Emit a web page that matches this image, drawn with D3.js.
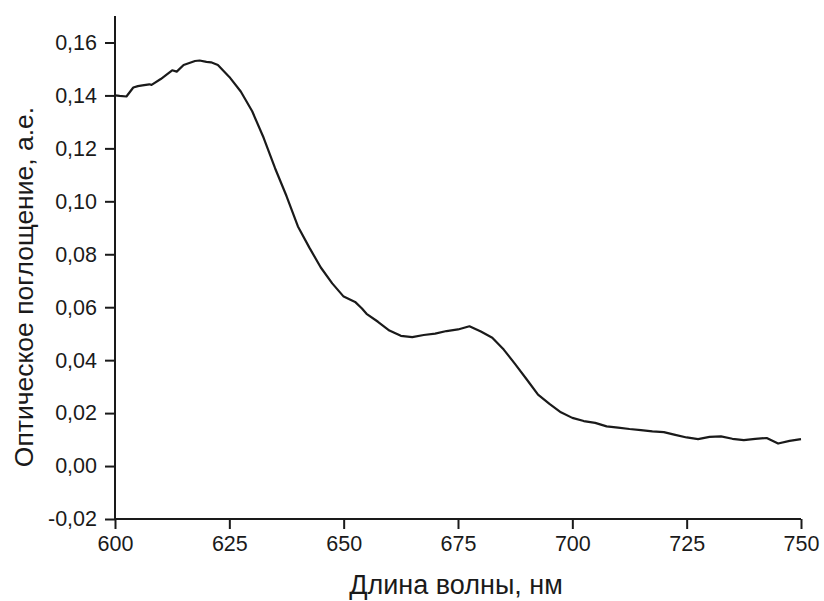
<!DOCTYPE html>
<html>
<head>
<meta charset="utf-8">
<script src="https://cdn.jsdelivr.net/npm/d3@7"></script>
<style>
  body { margin: 0; background: #fff; }
  svg { display: block; }
  text { font-family: "Liberation Sans", Arial, sans-serif; fill: #1a1a1a; }
</style>
</head>
<body>
<div id="chart"></div>
<script>
// длина волны, нм
var waveNm = [600, 601, 602.5, 604, 605, 606, 607.5, 608, 610, 612.5, 613.5, 615, 617.5, 618.5, 620, 621, 622.5,
    625, 627.5, 630, 632.5, 635, 637.5, 640, 642.5, 645, 647.5, 650, 652.5, 654, 655, 657.5, 660, 662.5, 665,
    667.5, 670, 672.5, 675, 677.5, 680, 682.5, 685, 687.5, 690, 692.5, 695, 697.5, 700, 702.5, 705, 707.5, 710,
    712.5, 715, 717.5, 720, 722.5, 725, 727.5, 730, 732.5, 735, 737.5, 740, 742.5, 745, 747.5, 750];
// оптическое поглощение, а.е.
var absorb = [0.1400, 0.1398, 0.1396, 0.1430, 0.1435, 0.1438, 0.1442, 0.1440, 0.1462, 0.1495, 0.1490, 0.1515,
    0.1530, 0.1532, 0.1527, 0.1525, 0.1515, 0.1470, 0.1415, 0.1340, 0.1240, 0.1125, 0.1020, 0.0905, 0.0825,
    0.0750, 0.0690, 0.0640, 0.0620, 0.0595, 0.0575, 0.0545, 0.0512, 0.0492, 0.0487, 0.0495, 0.0500, 0.0510,
    0.0516, 0.0528, 0.0508, 0.0485, 0.0440, 0.0385, 0.0328, 0.0270, 0.0235, 0.0203, 0.0182, 0.0170, 0.0163,
    0.0150, 0.0145, 0.0140, 0.0136, 0.0131, 0.0128, 0.0118, 0.0108, 0.0102, 0.0110, 0.0112, 0.0103, 0.0098,
    0.0103, 0.0106, 0.0085, 0.0095, 0.0102];
var xTicks = [600, 625, 650, 675, 700, 725, 750];
var yTicks = [-0.02, 0, 0.02, 0.04, 0.06, 0.08, 0.10, 0.12, 0.14, 0.16];

var W = 824, H = 601;
var svg = d3.select('#chart').append('svg').attr('width', W).attr('height', H);

var x = d3.scaleLinear().domain([600, 750]).range([115, 801]);
var y = d3.scaleLinear().domain([-0.02, 0.17]).range([519, 16]);
// запятая как десятичный разделитель, обычный дефис
var fmt = function (d) { return d3.format('.2f')(d).replace('.', ',').replace('\u2212', '-'); };

// ось X
var gx = svg.append('g').attr('transform', 'translate(0,' + y(-0.02) + ')');
gx.call(d3.axisBottom(x).tickValues(d3.range(600, 751, 12.5)).tickSize(5).tickFormat(''));
gx.call(d3.axisBottom(x).tickValues(xTicks).tickSize(10).tickPadding(7).tickFormat(d3.format('d')));
gx.selectAll('.domain').attr('d', 'M' + x.range()[0] + ',0H' + x.range()[1]);
gx.selectAll('text').style('font-size', '21.5px').attr('fill', '#1a1a1a');

// ось Y
var gy = svg.append('g').attr('transform', 'translate(' + x(600) + ',0)');
gy.call(d3.axisLeft(y).tickValues(d3.range(-0.02, 0.1601, 0.01)).tickSize(5).tickFormat(''));
gy.call(d3.axisLeft(y).tickValues(yTicks).tickSize(10).tickPadding(8).tickFormat(fmt));
gy.selectAll('.domain').attr('d', 'M0,' + y.range()[0] + 'V' + y.range()[1]);
gy.selectAll('text').style('font-size', '21.5px').attr('fill', '#1a1a1a');
svg.selectAll('.domain, .tick line').attr('stroke', '#1a1a1a').attr('stroke-width', 2);

// кривая
var pts = waveNm.map(function (d, i) { return [d, absorb[i]]; });
svg.append('path')
    .datum(pts)
    .attr('fill', 'none')
    .attr('stroke', '#1a1a1a')
    .attr('stroke-width', 2.2)
    .attr('stroke-linejoin', 'round')
    .attr('d', d3.line().x(function (d) { return x(d[0]); }).y(function (d) { return y(d[1]); }));

// подписи осей
svg.append('text')
    .attr('x', 456).attr('y', 594)
    .attr('text-anchor', 'middle')
    .style('font-size', '27px')
    .text('Длина волны, нм');
svg.append('text')
    .attr('transform', 'translate(33,287) rotate(-90)')
    .attr('text-anchor', 'middle')
    .style('font-size', '26.5px')
    .text('Оптическое поглощение, а.е.');
</script>
</body>
</html>
